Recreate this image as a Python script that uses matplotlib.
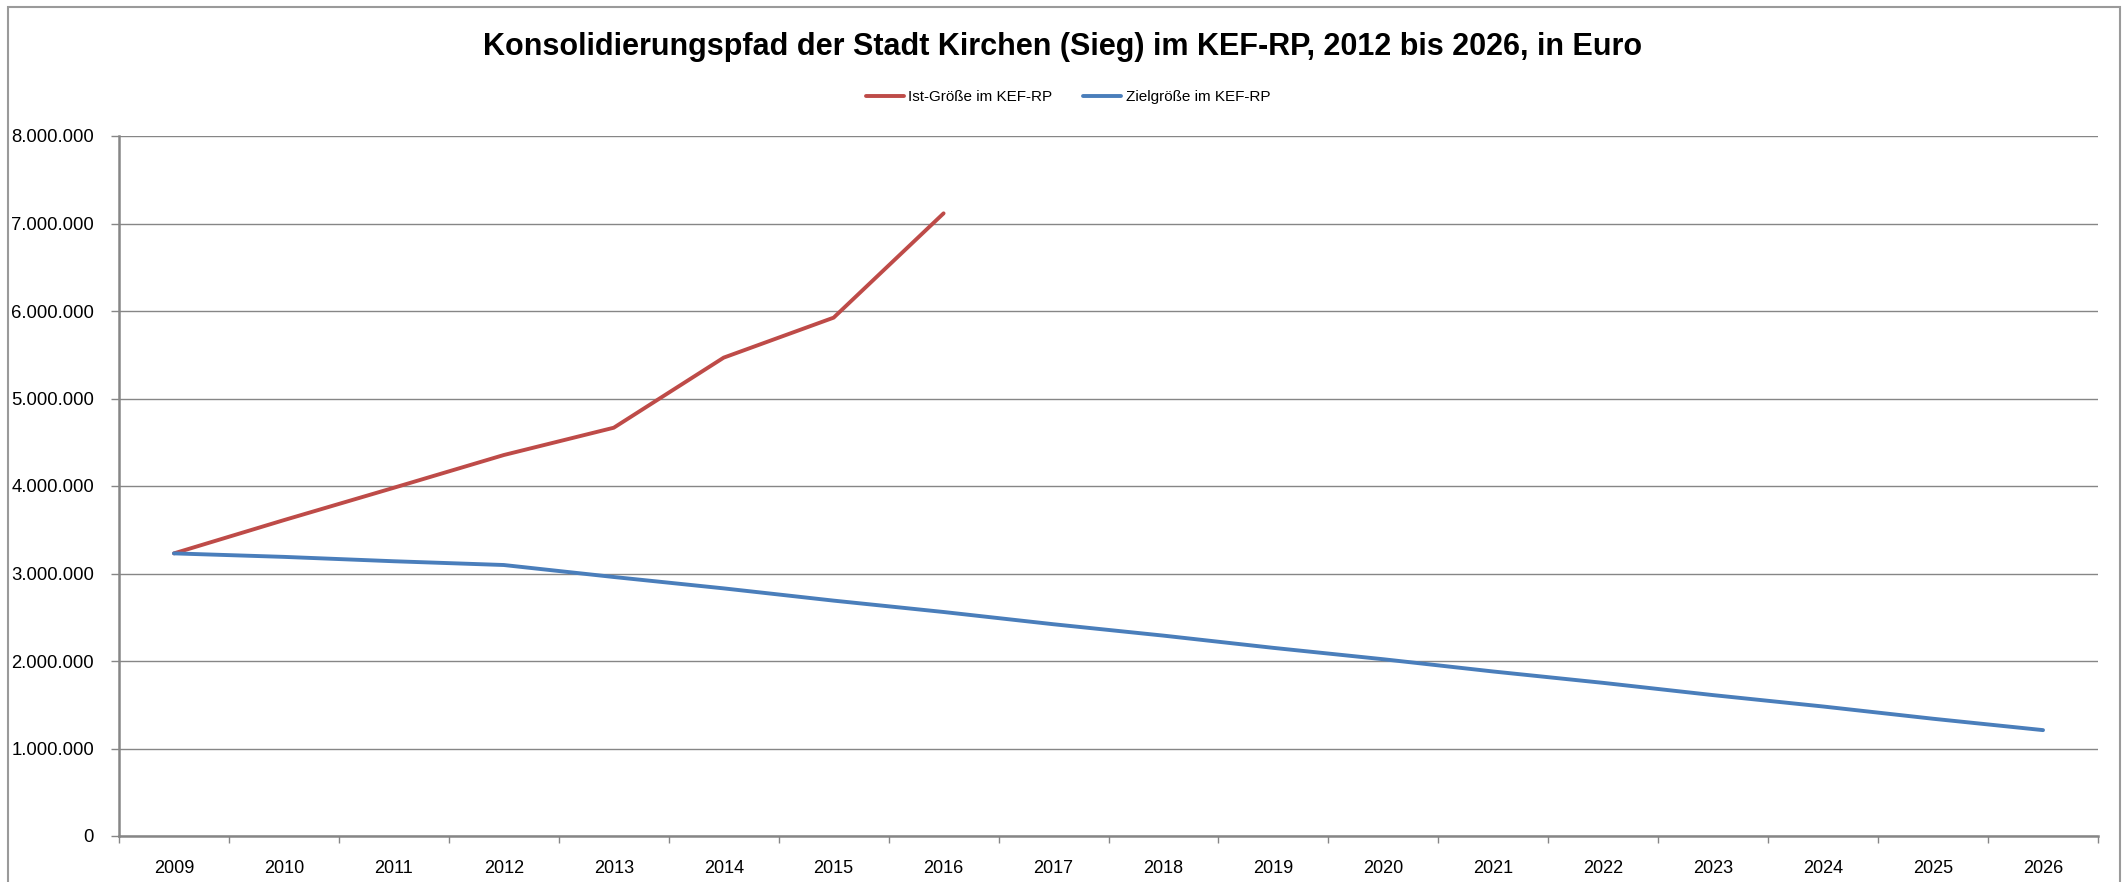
"""
Konsolidierungspfad der Stadt Kirchen (Sieg) im KEF-RP
"""

import matplotlib
matplotlib.use('Agg')
import matplotlib.pyplot as plt
from matplotlib.ticker import FuncFormatter, FixedLocator, NullFormatter
from matplotlib.patches import Rectangle

plt.rcParams['font.family'] = ['Liberation Sans', 'DejaVu Sans']

# Daten (in Euro)
jahre = [str(j) for j in range(2009, 2027)]
ist_jahre = jahre[:8]
ist_werte = [3230000, 3610000, 3980000, 4354000, 4666000, 5467000, 5924000, 7116000]
ziel_werte = [3230000, 3190000, 3140000, 3097000, 2960000, 2830000, 2690000, 2560000,
              2420000, 2290000, 2150000, 2020000, 1880000, 1750000, 1610000, 1480000,
              1340000, 1210000]

titel = 'Konsolidierungspfad der Stadt Kirchen (Sieg) im KEF-RP, 2012 bis 2026, in Euro'
label_ist = 'Ist-Größe im KEF-RP'
label_ziel = 'Zielgröße im KEF-RP'

ROT = '#BE4B48'
BLAU = '#4A7EBB'
GRAU = '#868686'

W, H = 2125, 882
fig = plt.figure(figsize=(W / 100, H / 100), dpi=100)
ax = fig.add_axes([119 / W, 1 - 836 / H, (2098 - 119) / W, (836 - 136) / H])

x_ist = list(range(len(ist_jahre)))
x_ziel = list(range(len(jahre)))
ax.plot(x_ist, ist_werte, color=ROT, lw=2.8, solid_capstyle='round', label=label_ist, zorder=3)
ax.plot(x_ziel, ziel_werte, color=BLAU, lw=2.8, solid_capstyle='round', label=label_ziel, zorder=3)

# Achsen
ax.set_xlim(-0.5, len(jahre) - 0.5)
ax.set_ylim(0, 8000000)
ax.set_yticks(range(0, 8000001, 1000000))
ax.yaxis.set_major_formatter(FuncFormatter(lambda v, p: f'{v:,.0f}'.replace(',', '.')))

ax.xaxis.set_major_locator(FixedLocator([i - 0.5 for i in range(len(jahre) + 1)]))
ax.xaxis.set_major_formatter(NullFormatter())
ax.xaxis.set_minor_locator(FixedLocator(x_ziel))
ax.set_xticklabels(jahre, minor=True)

ax.tick_params(axis='x', which='major', length=5, width=1, color=GRAU, direction='out')
ax.tick_params(axis='x', which='minor', length=0, pad=17, labelsize=13)
ax.tick_params(axis='y', length=6, width=1, color=GRAU, direction='out', pad=12, labelsize=13.3)

ax.grid(True, axis='y', color=GRAU, lw=1)
ax.set_axisbelow(True)
for s in ['top', 'right']:
    ax.spines[s].set_visible(False)
for s in ['left', 'bottom']:
    ax.spines[s].set_color(GRAU)
    ax.spines[s].set_linewidth(1.8)

# Titel und Legende
fig.text(0.5, 1 - 47 / H, titel, ha='center', va='center', fontsize=22, fontweight='bold')
fig.legend(loc='center', bbox_to_anchor=(1068 / W, 1 - 97 / H), ncol=2, frameon=False,
           fontsize=11, handlelength=2.5, handletextpad=0.3, columnspacing=2.0)

# Rahmen
fig.patches.append(Rectangle((8 / W, -0.1), (2120 - 8) / W, 1.1 - 7 / H, transform=fig.transFigure,
                             fill=False, edgecolor='#9a9a9a', lw=1.5))

fig.savefig('out.png', dpi=100)
